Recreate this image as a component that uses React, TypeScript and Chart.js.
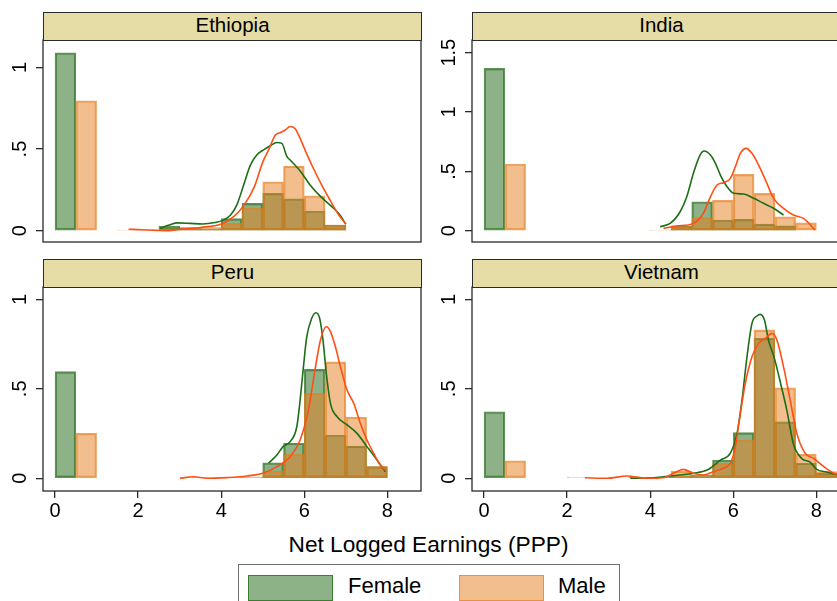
import React, { useEffect, useRef } from 'react';
import { Chart, registerables } from 'chart.js';

Chart.register(...registerables);

const FONT = '"Liberation Sans", Arial, Helvetica, sans-serif';

// ---- data -------------------------------------------------------------
const BIN_WIDTH = 0.5;
const countries = ['Ethiopia', 'India', 'Peru', 'Vietnam'];

// bars for zero earnings: female in [0, 0.5), male in [0.5, 1)
const zeroBinStartFemale = 0;
const zeroBinStartMale = 0.5;
const zeroFemale = [1.09, 1.368, 0.596, 0.372];
const zeroMale = [0.796, 0.562, 0.251, 0.098];

// histogram bins (lower edges) and densities of positive earnings
const ethiopiaBinStarts = [1.5, 2.0, 2.5, 3.0, 3.5, 4.0, 4.5, 5.0, 5.5, 6.0, 6.5];
const ethiopiaFemaleHist = [null, null, 0.029, 0.02, 0.012, 0.074, 0.168, 0.229, 0.196, 0.121, 0.035];
const ethiopiaMaleHist = [0.004, 0.004, 0.012, 0.016, 0.02, 0.045, 0.141, 0.3, 0.396, 0.214, 0.035];

const indiaBinStarts = [4.0, 4.5, 5.0, 5.5, 6.0, 6.5, 7.0, 7.5];
const indiaFemaleHist = [null, 0.042, 0.244, 0.09, 0.096, 0.056, 0.042, null];
const indiaMaleHist = [0.005, 0.035, 0.11, 0.256, 0.475, 0.315, 0.118, 0.067];

const peruBinStarts = [3.0, 3.5, 4.0, 4.5, 5.0, 5.5, 6.0, 6.5, 7.0, 7.5];
const peruFemaleHist = [null, null, null, null, 0.087, 0.196, 0.609, 0.242, 0.18, 0.065];
const peruMaleHist = [0.004, 0.004, 0.005, 0.008, 0.041, 0.136, 0.475, 0.651, 0.341, 0.065];

const vietnamBinStarts = [2.0, 2.5, 3.0, 3.5, 4.0, 4.5, 5.0, 5.5, 6.0, 6.5, 7.0, 7.5, 8.0];
const vietnamFemaleHist = [null, null, null, 0.004, 0.005, 0.013, 0.02, 0.102, 0.255, 0.782, 0.316, 0.084, 0.028];
const vietnamMaleHist = [0.003, null, null, 0.003, 0.004, 0.04, 0.015, 0.084, 0.214, 0.829, 0.506, 0.134, 0.037];

// kernel density estimates
const ethiopiaFemaleKdeX = [2.53, 2.75, 2.95, 3.25, 3.55, 3.85, 4.05, 4.22, 4.38, 4.54, 4.7, 4.86, 5.02, 5.18, 5.34, 5.46, 5.58, 5.66, 5.92, 6.14, 6.39, 6.63, 6.85, 7.0];
const ethiopiaFemaleKdeY = [0.015, 0.035, 0.048, 0.045, 0.041, 0.05, 0.065, 0.095, 0.16, 0.28, 0.4, 0.465, 0.495, 0.52, 0.54, 0.535, 0.455, 0.433, 0.36, 0.28, 0.21, 0.155, 0.1, 0.04];
const ethiopiaMaleKdeX = [1.77, 2.1, 2.45, 2.75, 3.0, 3.5, 4.0, 4.3, 4.55, 4.8, 5.0, 5.15, 5.3, 5.42, 5.54, 5.66, 5.78, 5.9, 6.02, 6.2, 6.42, 6.62, 6.82, 7.0];
const ethiopiaMaleKdeY = [0.009, 0.006, 0.002, 0.0, 0.009, 0.02, 0.041, 0.086, 0.157, 0.27, 0.42, 0.5, 0.585, 0.6, 0.617, 0.638, 0.625, 0.566, 0.494, 0.392, 0.28, 0.188, 0.1, 0.041];

const indiaFemaleKdeX = [4.24, 4.48, 4.72, 4.88, 5.04, 5.2, 5.3, 5.45, 5.57, 5.69, 5.85, 6.01, 6.25, 6.49, 6.73, 6.97, 7.21];
const indiaFemaleKdeY = [0.034, 0.062, 0.16, 0.286, 0.484, 0.638, 0.672, 0.638, 0.568, 0.469, 0.371, 0.315, 0.309, 0.273, 0.231, 0.189, 0.132];
const indiaMaleKdeX = [4.32, 4.64, 5.04, 5.28, 5.45, 5.61, 5.77, 5.93, 6.05, 6.17, 6.31, 6.45, 6.61, 6.81, 6.97, 7.21, 7.45, 7.69, 7.97];
const indiaMaleKdeY = [0.02, 0.04, 0.062, 0.147, 0.286, 0.385, 0.405, 0.441, 0.539, 0.652, 0.694, 0.652, 0.553, 0.399, 0.273, 0.189, 0.132, 0.104, 0.006];

const peruFemaleKdeX = [5.14, 5.34, 5.49, 5.66, 5.82, 5.9, 5.98, 6.06, 6.18, 6.28, 6.37, 6.45, 6.53, 6.63, 6.79, 7.03, 7.27, 7.51, 7.75, 7.95];
const peruFemaleKdeY = [0.084, 0.13, 0.177, 0.205, 0.288, 0.437, 0.623, 0.791, 0.894, 0.925, 0.894, 0.773, 0.587, 0.419, 0.344, 0.298, 0.251, 0.177, 0.102, 0.037];
const peruMaleKdeX = [3.01, 3.33, 3.66, 4.14, 4.62, 5.02, 5.34, 5.66, 5.9, 6.1, 6.27, 6.39, 6.53, 6.63, 6.75, 6.87, 7.03, 7.19, 7.35, 7.51, 7.67, 7.83, 7.95];
const peruMaleKdeY = [0.0, 0.009, 0.0, 0.004, 0.013, 0.03, 0.065, 0.121, 0.214, 0.382, 0.623, 0.773, 0.847, 0.82, 0.735, 0.623, 0.493, 0.419, 0.307, 0.214, 0.14, 0.074, 0.046];

const vietnamFemaleKdeX = [3.52, 4.08, 4.48, 5.04, 5.37, 5.69, 5.93, 6.09, 6.21, 6.33, 6.45, 6.57, 6.65, 6.75, 6.85, 6.99, 7.15, 7.29, 7.45, 7.65, 7.85, 8.01, 8.25, 8.5];
const vietnamFemaleKdeY = [0.0, 0.003, 0.013, 0.028, 0.046, 0.102, 0.14, 0.251, 0.437, 0.679, 0.866, 0.907, 0.916, 0.884, 0.77, 0.67, 0.52, 0.38, 0.19, 0.11, 0.09, 0.05, 0.035, 0.02];
const vietnamMaleKdeX = [2.43, 2.96, 3.44, 3.92, 4.32, 4.56, 4.8, 5.04, 5.28, 5.52, 5.8, 5.93, 6.05, 6.17, 6.29, 6.45, 6.61, 6.77, 6.93, 7.05, 7.21, 7.37, 7.53, 7.73, 7.93, 8.18, 8.42, 8.7];
const vietnamMaleKdeY = [0.003, 0.0, 0.013, 0.0, 0.003, 0.028, 0.05, 0.028, 0.018, 0.037, 0.06, 0.084, 0.177, 0.363, 0.531, 0.679, 0.754, 0.782, 0.81, 0.773, 0.623, 0.437, 0.251, 0.14, 0.112, 0.065, 0.028, 0.01];

// y-axis ranges of each panel
const yAxisMin = [-0.069, -0.095, -0.071, -0.071];
const yAxisMax = [1.168, 1.607, 1.069, 1.069];
const xAxisMin = -0.29;
const xAxisMax = 8.81;

// ---- styles -----------------------------------------------------------
const FEMALE_FILL = 'rgba(27,101,15,0.5)';
const FEMALE_EDGE = 'rgba(27,101,15,0.7)';
const MALE_FILL = 'rgba(229,125,29,0.5)';
const MALE_EDGE = 'rgba(229,125,29,0.7)';
const FEMALE_LINE = '#1d6e16';
const MALE_LINE = '#ff5014';
const AXIS_COLOR = '#2a2a2a';
const STRIP_FILL = '#e6dca6';

const COL_PLOT_LEFT = [43, 472];
const PLOT_WIDTH = 378;
const ROW_PLOT_TOP = [40, 287];
const ROW_PLOT_BOTTOM = [242, 491];
const STRIP_HEIGHT = 28;
const CANVAS_PAD_TOP = 20;
const CANVAS_PAD_RIGHT = 10;
const X_AXIS_HEIGHT = 40;

type Panel = {
  name: string;
  binStarts: number[];
  femaleHist: (number | null)[];
  maleHist: (number | null)[];
  fx: number[]; fy: number[]; mx: number[]; my: number[];
  index: number;
};

const panels: Panel[] = [
  { name: countries[0], binStarts: ethiopiaBinStarts, femaleHist: ethiopiaFemaleHist, maleHist: ethiopiaMaleHist,
    fx: ethiopiaFemaleKdeX, fy: ethiopiaFemaleKdeY, mx: ethiopiaMaleKdeX, my: ethiopiaMaleKdeY, index: 0 },
  { name: countries[1], binStarts: indiaBinStarts, femaleHist: indiaFemaleHist, maleHist: indiaMaleHist,
    fx: indiaFemaleKdeX, fy: indiaFemaleKdeY, mx: indiaMaleKdeX, my: indiaMaleKdeY, index: 1 },
  { name: countries[2], binStarts: peruBinStarts, femaleHist: peruFemaleHist, maleHist: peruMaleHist,
    fx: peruFemaleKdeX, fy: peruFemaleKdeY, mx: peruMaleKdeX, my: peruMaleKdeY, index: 2 },
  { name: countries[3], binStarts: vietnamBinStarts, femaleHist: vietnamFemaleHist, maleHist: vietnamMaleHist,
    fx: vietnamFemaleKdeX, fy: vietnamFemaleKdeY, mx: vietnamMaleKdeX, my: vietnamMaleKdeY, index: 3 },
];

const zip = (xs: number[], ys: number[]) => xs.map((x, i) => ({ x, y: ys[i] }));

const histPoints = (starts: number[], heights: (number | null)[]) =>
  starts.map((s, i) => ({ x: s + BIN_WIDTH / 2, y: heights[i] }));

const fmtY = (v: number) => (v === 0 ? '0' : String(v).replace(/^0\./, '.'));

// frame around the plot region plus rotated y tick labels
const panelFrame = {
  id: 'panelFrame',
  afterDraw(chart: any) {
    const { ctx, chartArea: a } = chart;
    const y = chart.scales.y;
    ctx.save();
    ctx.strokeStyle = AXIS_COLOR;
    ctx.lineWidth = 1.3;
    ctx.strokeRect(a.left, a.top, a.right - a.left, a.bottom - a.top);
    ctx.fillStyle = '#000';
    ctx.font = `20px ${FONT}`;
    ctx.textAlign = 'center';
    ctx.textBaseline = 'middle';
    for (const t of y.ticks) {
      const py = y.getPixelForValue(t.value);
      ctx.save();
      ctx.translate(a.left - 23, py);
      ctx.rotate(-Math.PI / 2);
      ctx.fillText(fmtY(t.value), 0, 0);
      ctx.restore();
    }
    ctx.restore();
  },
};

function PanelChart({ p }: { p: Panel }) {
  const ref = useRef<HTMLCanvasElement>(null);
  const col = p.index % 2;
  const row = Math.floor(p.index / 2);
  const isBottom = row === 1;
  const yAxisWidth = col === 0 ? 43 : 42;
  const canvasLeft = COL_PLOT_LEFT[col] - yAxisWidth;
  const canvasTop = ROW_PLOT_TOP[row] - CANVAS_PAD_TOP;
  const width = yAxisWidth + PLOT_WIDTH + CANVAS_PAD_RIGHT;
  const padBottom = isBottom ? 0 : 10;
  const height = ROW_PLOT_BOTTOM[row] - canvasTop + (isBottom ? X_AXIS_HEIGHT : padBottom);

  useEffect(() => {
    const female = histPoints(p.binStarts, p.femaleHist);
    const male = histPoints(p.binStarts, p.maleHist);
    female.unshift({ x: zeroBinStartFemale + BIN_WIDTH / 2, y: zeroFemale[p.index] });
    male.unshift({ x: zeroBinStartMale + BIN_WIDTH / 2, y: zeroMale[p.index] });

    const barCommon = {
      type: 'bar' as const,
      borderWidth: 1.5,
      borderSkipped: false,
      grouped: false,
      barPercentage: 1,
      categoryPercentage: 1,
    };
    const lineCommon = {
      type: 'line' as const,
      borderWidth: 1.6,
      pointRadius: 0,
      fill: false,
      cubicInterpolationMode: 'monotone' as const,
    };

    const chart = new Chart(ref.current!, {
      type: 'bar',
      data: {
        datasets: [
          { ...lineCommon, label: 'Male', data: zip(p.mx, p.my), borderColor: MALE_LINE, order: 0 },
          { ...lineCommon, label: 'Female', data: zip(p.fx, p.fy), borderColor: FEMALE_LINE, order: 1 },
          { ...barCommon, label: 'Male', data: male, backgroundColor: MALE_FILL, borderColor: MALE_EDGE, order: 2 },
          { ...barCommon, label: 'Female', data: female, backgroundColor: FEMALE_FILL, borderColor: FEMALE_EDGE, order: 3 },
        ] as any,
      },
      options: {
        responsive: false,
        maintainAspectRatio: false,
        animation: false,
        devicePixelRatio: 1,
        layout: { padding: { top: CANVAS_PAD_TOP, right: CANVAS_PAD_RIGHT, bottom: padBottom, left: 0 } },
        plugins: { legend: { display: false }, tooltip: { enabled: false } },
        scales: {
          x: {
            type: 'linear',
            min: xAxisMin,
            max: xAxisMax,
            offset: false,
            display: isBottom,
            ticks: {
              stepSize: 2,
              includeBounds: false,
              maxRotation: 0,
              autoSkip: false,
              padding: 1,
              color: '#000',
              font: { family: FONT, size: 20 },
            },
            grid: { offset: false, drawOnChartArea: false, drawTicks: true, tickLength: 7, color: AXIS_COLOR, lineWidth: 1.3 },
            border: { display: false },
            afterFit: (s: any) => { s.height = isBottom ? X_AXIS_HEIGHT : 0; },
          },
          y: {
            type: 'linear',
            min: yAxisMin[p.index],
            max: yAxisMax[p.index],
            ticks: { display: false, stepSize: 0.5, includeBounds: false },
            grid: { drawOnChartArea: false, drawTicks: true, tickLength: 7, color: AXIS_COLOR, lineWidth: 1.3 },
            border: { display: false },
            afterFit: (s: any) => { s.width = yAxisWidth; },
          },
        } as any,
      },
      plugins: [panelFrame],
    });
    return () => chart.destroy();
  }, []);

  return (
    <>
      <canvas
        ref={ref}
        width={width}
        height={height}
        style={{ position: 'absolute', left: canvasLeft, top: canvasTop, width, height, display: 'block' }}
      />
      <div
        style={{
          position: 'absolute',
          left: COL_PLOT_LEFT[col],
          top: ROW_PLOT_TOP[row] - STRIP_HEIGHT,
          width: PLOT_WIDTH + 1,
          height: STRIP_HEIGHT + 1,
          boxSizing: 'border-box',
          border: `1.3px solid ${AXIS_COLOR}`,
          background: STRIP_FILL,
          textAlign: 'center',
          fontFamily: FONT,
          fontSize: 20.5,
          lineHeight: '23.4px',
          color: '#000',
        }}
      >
        {p.name}
      </div>
    </>
  );
}

export default function App() {
  return (
    <div
      style={{
        position: 'fixed',
        left: 0,
        top: 0,
        width: 837,
        height: 601,
        overflow: 'hidden',
        background: '#fff',
        fontFamily: FONT,
      }}
    >
      {panels.map((p) => (
        <PanelChart key={p.name} p={p} />
      ))}
      <div
        style={{
          position: 'absolute',
          left: 0,
          width: 857,
          top: 533.4,
          textAlign: 'center',
          fontSize: 22.7,
          lineHeight: '23px',
          color: '#000',
          whiteSpace: 'nowrap',
        }}
      >
        Net Logged Earnings (PPP)
      </div>
      <div
        style={{
          position: 'absolute',
          left: 238,
          top: 564,
          width: 382,
          height: 50,
          boxSizing: 'border-box',
          border: '1px solid #6f6f6f',
          background: '#fff',
        }}
      />
      <div style={{ position: 'absolute', left: 248, top: 575, width: 85, height: 26, boxSizing: 'border-box', background: FEMALE_FILL, border: `1.5px solid ${FEMALE_EDGE}` }} />
      <div style={{ position: 'absolute', left: 348, top: 575.4, fontSize: 22, lineHeight: '22px', color: '#000', whiteSpace: 'nowrap' }}>Female</div>
      <div style={{ position: 'absolute', left: 459, top: 575, width: 85, height: 26, boxSizing: 'border-box', background: MALE_FILL, border: `1.5px solid ${MALE_EDGE}` }} />
      <div style={{ position: 'absolute', left: 558, top: 575.4, fontSize: 22, lineHeight: '22px', color: '#000', whiteSpace: 'nowrap' }}>Male</div>
    </div>
  );
}
